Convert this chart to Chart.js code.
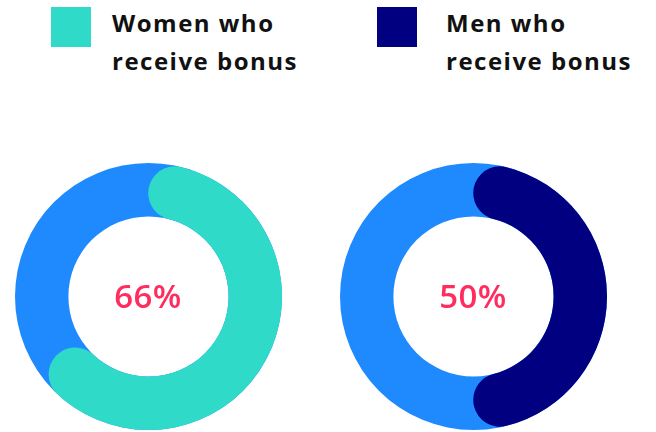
<!DOCTYPE html>
<html>
<head>
<meta charset="utf-8">
<script src="https://cdn.jsdelivr.net/npm/chart.js@4"></script>
<style>
  html, body { margin:0; padding:0; background:#fff; }
  body { width:656px; height:432px; position:relative; overflow:hidden; font-family:"DejaVu Sans", sans-serif; }
  .sw { position:absolute; width:40px; height:40px; top:7px; }
  .lt { position:absolute; top:4px; font-family:"Open Sans", sans-serif; font-weight:700; font-size:24px; line-height:38px; color:#111; white-space:nowrap; letter-spacing:1.5px; }
  .cv { position:absolute; top:163px; width:267px; height:267px; }
  .ct { position:absolute; font-family:"Open Sans", sans-serif; font-weight:600; font-size:33px; color:#ff2d5f; text-align:center; width:160px; line-height:40px; letter-spacing:0.5px; }
</style>
</head>
<body>
<div class="sw" id="sw0" style="left:51px;"></div>
<div class="lt" id="lt0" style="left:112px;"></div>
<div class="sw" id="sw1" style="left:377px;"></div>
<div class="lt" id="lt1" style="left:446px;"></div>

<div class="cv" style="left:15px;"><canvas id="c0"></canvas></div>
<div class="cv" style="left:340px;"><canvas id="c1"></canvas></div>
<div class="ct" id="ct0" style="left:68px; top:276px;"></div>
<div class="ct" id="ct1" style="left:393px; top:276px;"></div>

<script>
const groups = ["Women who receive bonus", "Men who receive bonus"];
const groupLines = [["Women who", "receive bonus"], ["Men who", "receive bonus"]];
const bonusShare = [66, 50];
const seriesColors = ["#30dac9", "#000080"];
const ringColor = "#1e8afe";

groupLines.forEach((lines, i) => {
  document.getElementById("lt" + i).innerHTML = lines.join("<br>");
  document.getElementById("sw" + i).style.background = seriesColors[i];
  document.getElementById("ct" + i).textContent = bonusShare[i] + "%";
});

const ringPlugin = {
  id: "ring",
  beforeDatasetsDraw(chart) {
    const arc = chart.getDatasetMeta(0).data[0];
    if (!arc) return;
    const { x, y, innerRadius, outerRadius } = arc.getProps(["x","y","innerRadius","outerRadius"], true);
    const ctx = chart.ctx;
    ctx.save();
    ctx.beginPath();
    ctx.arc(x, y, outerRadius, 0, Math.PI * 2);
    ctx.arc(x, y, innerRadius, Math.PI * 2, 0, true);
    ctx.closePath();
    ctx.fillStyle = ringColor;
    ctx.fill();
    ctx.restore();
  }
};

bonusShare.forEach((v, i) => {
  new Chart(document.getElementById("c" + i), {
    type: "doughnut",
    data: {
      labels: [groups[i], "Other"],
      datasets: [{
        data: [v, 100 - v],
        backgroundColor: [seriesColors[i], "rgba(0,0,0,0)"],
        borderWidth: 0,
        borderRadius: [40, 0]
      }]
    },
    options: {
      responsive: true,
      maintainAspectRatio: false,
      animation: false,
      cutout: "60%",
      layout: { padding: 0 },
      plugins: { legend: { display: false }, tooltip: { enabled: false } },
      events: []
    },
    plugins: [ringPlugin]
  });
});
</script>
</body>
</html>
